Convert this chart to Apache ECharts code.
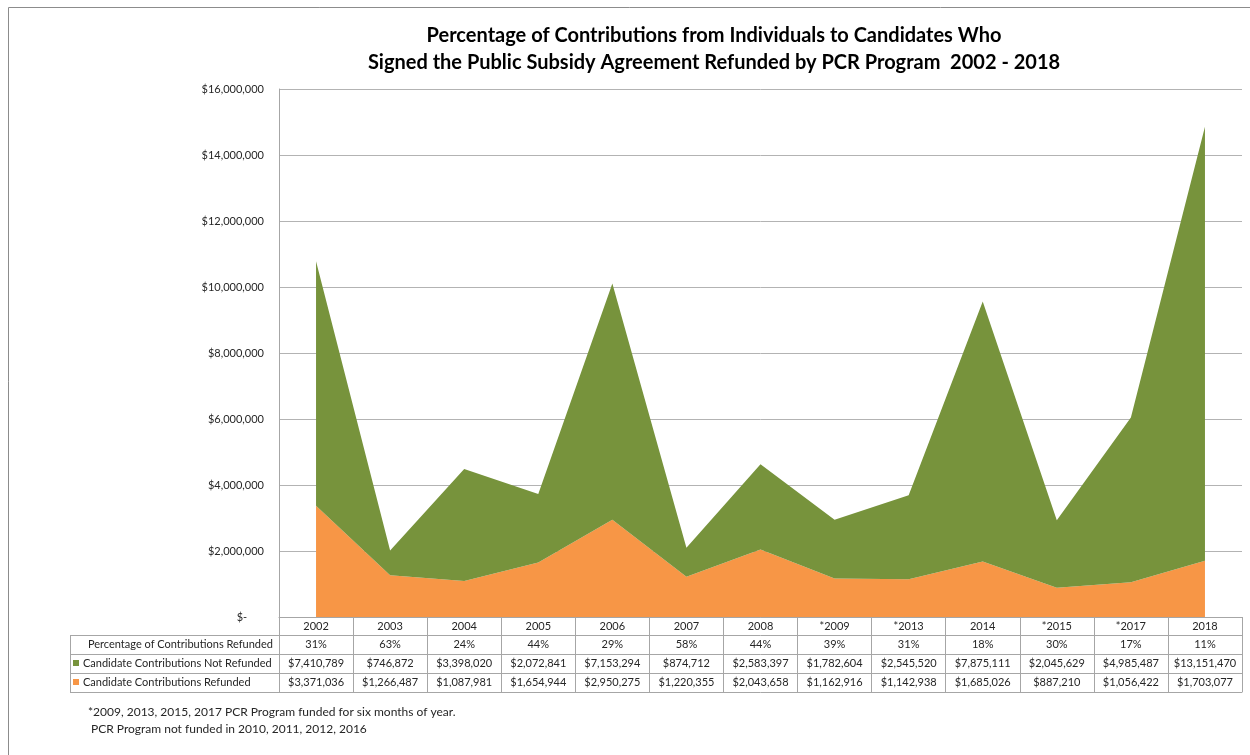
<!DOCTYPE html>
<html>
<head>
<meta charset="utf-8">
<script src="https://cdn.jsdelivr.net/npm/echarts@6/dist/echarts.min.js"></script>
<style>
  html, body { margin: 0; padding: 0; background: #fff; }
  #chart { width: 1250px; height: 755px; }
</style>
</head>
<body>
<div id="chart"></div>
<script>
// Election years covered by the PCR program (* = funded for six months only)
const years = ['2002', '2003', '2004', '2005', '2006', '2007', '2008', '*2009', '*2013', '2014', '*2015', '*2017', '2018'];
// Share of individual contributions that were refunded
const pctRefunded = ['31%', '63%', '24%', '44%', '29%', '58%', '44%', '39%', '31%', '18%', '30%', '17%', '11%'];
// Contributions kept by candidates (not refunded), dollars
const notRefunded = [7410789, 746872, 3398020, 2072841, 7153294, 874712, 2583397, 1782604, 2545520, 7875111, 2045629, 4985487, 13151470];
// Contributions refunded through PCR, dollars
const refunded = [3371036, 1266487, 1087981, 1654944, 2950275, 1220355, 2043658, 1162916, 1142938, 1685026, 887210, 1056422, 1703077];
// Value axis ticks
const yMax = 16000000;
const yStep = 2000000;

const GREEN = '#77933C';
const ORANGE = '#F79646';
const LINE = '#a6a6a6';
const FONT = 'Lato, "Open Sans", sans-serif';
const TXT = '#262626';

const money = v => '$' + Number(v).toLocaleString('en-US');

// Rows of the data table hang under the category axis as extra category axes
function tableAxis(offset, labels, showLabel) {
  return {
    type: 'category',
    data: years,
    position: 'bottom',
    offset: offset,
    boundaryGap: true,
    axisLine: { show: true, lineStyle: { color: LINE, width: 1 } },
    axisTick: { show: false },
    axisLabel: {
      show: showLabel,
      interval: 0,
      margin: 4,
      fontSize: 11,
      fontFamily: FONT,
      color: TXT,
      formatter: (v, i) => labels ? labels[i] : v
    },
    splitLine: { show: false }
  };
}

const chart = echarts.init(document.getElementById('chart'), null, { renderer: 'canvas' });

const yearAxis = tableAxis(0, null, true);
yearAxis.axisTick = { show: true, interval: 0, alignWithLabel: false, length: 75, inside: false, lineStyle: { color: LINE, width: 1 } };

const headerLeft = 70, headerRight = 279;
const rowLines = [635, 654, 673, 692];

chart.setOption({
  animation: false,
  backgroundColor: '#fff',
  title: {
    text: 'Percentage of Contributions from Individuals to Candidates Who\nSigned the Public Subsidy Agreement Refunded by PCR Program  2002 - 2018',
    left: 709,
    top: 17,
    textAlign: 'center',
    textStyle: { fontFamily: FONT, fontSize: 20, fontWeight: 'bold', color: '#000', lineHeight: 27 }
  },
  grid: { left: 279, right: 8, top: 89, bottom: 138, containLabel: false },
  xAxis: [
    yearAxis,
    tableAxis(18, pctRefunded, true),
    tableAxis(37, notRefunded.map(money), true),
    tableAxis(56, refunded.map(money), true),
    tableAxis(75, null, false)
  ],
  yAxis: {
    type: 'value',
    min: 0,
    max: yMax,
    interval: yStep,
    axisLine: { show: true, lineStyle: { color: LINE, width: 1 } },
    axisTick: { show: false },
    splitLine: { show: true, lineStyle: { color: '#b3b3b3', width: 1 } },
    axisLabel: {
      margin: 15,
      fontSize: 11,
      fontFamily: FONT,
      color: TXT,
      formatter: v => v === 0 ? '$-      ' : money(v)
    }
  },
  series: [
    {
      name: 'Candidate Contributions Refunded',
      type: 'line',
      stack: 'total',
      xAxisIndex: 0,
      data: refunded,
      symbol: 'none',
      lineStyle: { width: 0 },
      areaStyle: { color: ORANGE, opacity: 1 },
      itemStyle: { color: ORANGE }
    },
    {
      name: 'Candidate Contributions Not Refunded',
      type: 'line',
      stack: 'total',
      xAxisIndex: 0,
      data: notRefunded,
      symbol: 'none',
      lineStyle: { width: 0 },
      areaStyle: { color: GREEN, opacity: 1 },
      itemStyle: { color: GREEN }
    }
  ],
  graphic: [
    // outer chart frame
    { type: 'rect', shape: { x: 8.5, y: 7.5, width: 1300, height: 800 }, style: { fill: 'none', stroke: '#8c8c8c', lineWidth: 1 }, silent: true },
    // header column of the data table
    ...rowLines.map(y => ({ type: 'line', shape: { x1: headerLeft, y1: y + 0.5, x2: headerRight, y2: y + 0.5 }, style: { stroke: LINE, lineWidth: 1 } })),
    { type: 'line', shape: { x1: headerLeft + 0.5, y1: rowLines[0], x2: headerLeft + 0.5, y2: rowLines[3] + 0.5 }, style: { stroke: LINE, lineWidth: 1 } },
    { type: 'text', x: 273, y: 644, style: { text: 'Percentage of Contributions Refunded', align: 'right', verticalAlign: 'middle', font: '11px ' + FONT, fill: TXT } },
    { type: 'rect', shape: { x: 73, y: 660, width: 6, height: 6 }, style: { fill: GREEN } },
    { type: 'text', x: 83, y: 663, style: { text: 'Candidate Contributions Not Refunded', align: 'left', verticalAlign: 'middle', font: '11px ' + FONT, fill: TXT } },
    { type: 'rect', shape: { x: 73, y: 679, width: 6, height: 6 }, style: { fill: ORANGE } },
    { type: 'text', x: 83, y: 682, style: { text: 'Candidate Contributions Refunded', align: 'left', verticalAlign: 'middle', font: '11px ' + FONT, fill: TXT } },
    // footnotes
    { type: 'text', x: 88, y: 712, style: { text: '*2009, 2013, 2015, 2017 PCR Program funded for six months of year.', verticalAlign: 'middle', font: '12px ' + FONT, fill: TXT } },
    { type: 'text', x: 91, y: 729, style: { text: 'PCR Program not funded in 2010, 2011, 2012, 2016', verticalAlign: 'middle', font: '12px ' + FONT, fill: TXT } }
  ]
});
</script>
</body>
</html>
